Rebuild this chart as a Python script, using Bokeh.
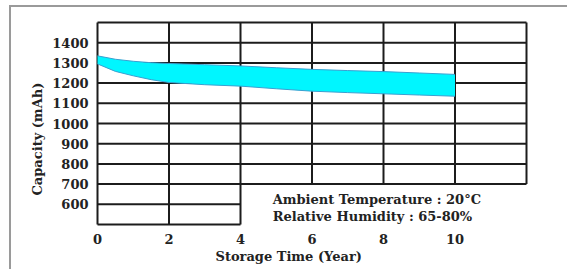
from bokeh.plotting import figure
from bokeh.models import Range1d, FixedTicker, Label, Title
from bokeh.embed import file_html
from bokeh.resources import INLINE

# Data
band_x = [0, 0.5, 1, 1.5, 2, 3, 4, 5, 6, 7, 8, 9, 10]
band_upper = [1335, 1318, 1308, 1301, 1297, 1291, 1285, 1276, 1268, 1262, 1257, 1250, 1243]
band_lower = [1295, 1258, 1236, 1217, 1203, 1192, 1185, 1172, 1160, 1153, 1147, 1141, 1135]

x_ticks = [0, 2, 4, 6, 8, 10]
y_ticks = [600, 700, 800, 900, 1000, 1100, 1200, 1300, 1400]

FONT = "DejaVu Serif"
TXT = "#222222"

p = figure(width=558, height=264, output_backend="svg", toolbar_location=None,
           x_range=Range1d(-0.084, 12.084), y_range=Range1d(485.15, 1514.85),
           min_border_left=83, min_border_right=40, min_border_top=12, min_border_bottom=44)
p.outline_line_color = None
p.xgrid.visible = False
p.ygrid.visible = False
p.background_fill_color = "white"
p.border_fill_color = "white"

# grid: full height on left part (0..4), upper part only on right (4..12)
gc = "#1c1c1c"
vx_left = [0, 2, 4]
vx_right = [6, 8, 10, 12]
p.segment(x0=vx_left, y0=[500] * 3, x1=vx_left, y1=[1500] * 3, line_color=gc, line_width=2)
p.segment(x0=vx_right, y0=[700] * 4, x1=vx_right, y1=[1500] * 4, line_color=gc, line_width=2)
hy_full = [700, 800, 900, 1000, 1100, 1200, 1300, 1400, 1500]
hy_left = [500, 600]
p.segment(x0=[0] * len(hy_full), y0=hy_full, x1=[12] * len(hy_full), y1=hy_full, line_color=gc, line_width=2)
p.segment(x0=[0] * 2, y0=hy_left, x1=[4] * 2, y1=hy_left, line_color=gc, line_width=2)

# band drawn over the grid
p.varea(x=band_x, y1=band_lower, y2=band_upper, fill_color="#00F6FF")
p.line(band_x, band_upper, line_color="#3a9fd0", line_width=1)
p.line(band_x, band_lower, line_color="#3a9fd0", line_width=1)

for ax in (p.xaxis[0], p.yaxis[0]):
    ax.axis_line_color = None
    ax.major_tick_line_color = None
    ax.minor_tick_line_color = None
    ax.major_label_text_font = FONT
    ax.major_label_text_font_style = "bold"
    ax.major_label_text_font_size = "13px"
    ax.major_label_text_color = TXT

p.xaxis.ticker = FixedTicker(ticks=x_ticks)
p.yaxis.ticker = FixedTicker(ticks=y_ticks)
p.xaxis.major_label_standoff = 0
p.yaxis.major_label_standoff = 0

def ttl(text, loc, offset, standoff):
    t = Title(text=text, align="left", offset=offset, standoff=standoff,
              text_font=FONT, text_font_style="bold", text_font_size="13px",
              text_color=TXT)
    p.add_layout(t, loc)

ttl("Storage Time (Year)", "below", 121, 0)
ttl("Capacity (mAh)", "left", 32, 9)

def lab(x, y, text):
    p.add_layout(Label(x=x, y=y, text=text, text_font=FONT, text_font_style="bold",
                       text_font_size="13px", text_color=TXT, text_baseline="middle"))

lab(4.9, 624, "Ambient Temperature : 20\u00b0C")
lab(4.9, 540, "Relative Humidity : 65-80%")

p.styles = {"margin-left": "9px", "margin-top": "5px",
            "border-left": "2px solid #9a9a9a", "border-top": "2px solid #9a9a9a"}

open("out.html", "w").write(file_html(p, INLINE))
